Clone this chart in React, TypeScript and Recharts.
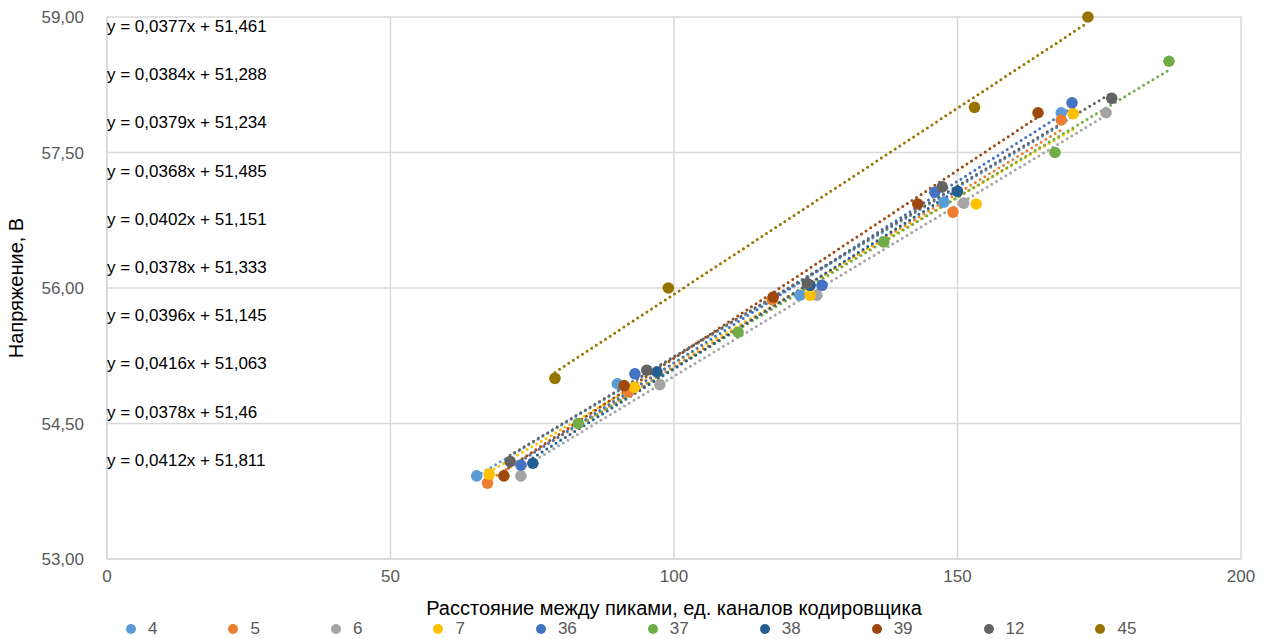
import React from "react"
import { CartesianGrid, Scatter, ScatterChart, XAxis, YAxis } from "recharts"

document.body.style.margin = "0"

const xTicks = [0, 50, 100, 150, 200]
const yTicks = [53, 54.5, 56, 57.5, 59]

const seriesNames = ["4", "5", "6", "7", "36", "37", "38", "39", "12", "45"]
const seriesColors = [
  "#5B9BD5",
  "#ED7D31",
  "#A5A5A5",
  "#FFC000",
  "#4472C4",
  "#70AD47",
  "#255E91",
  "#9E480E",
  "#636363",
  "#997300",
]

// points: [distance, voltage]
const s4: [number, number][] = [[65.2, 53.92], [90, 54.94], [122.2, 55.92], [147.6, 56.95], [168.3, 57.94]]
const s5: [number, number][] = [[67.1, 53.84], [92, 54.85], [117.3, 55.87], [149.2, 56.84], [168.3, 57.86]]
const s6: [number, number][] = [[73, 53.92], [97.5, 54.93], [125.2, 55.92], [151.1, 56.94], [176.2, 57.94]]
const s7: [number, number][] = [[67.4, 53.94], [93, 54.9], [124, 55.92], [153.3, 56.93], [170.4, 57.93]]
const s36: [number, number][] = [[73, 54.04], [93.1, 55.05], [126.1, 56.03], [146, 57.06], [170.2, 58.05]]
const s37: [number, number][] = [[83.1, 54.5], [111.3, 55.51], [137, 56.51], [167.2, 57.5], [187.3, 58.51]]
const s38: [number, number][] = [[75.1, 54.06], [97, 55.07], [124, 56.03], [150, 57.07]]
const s39: [number, number][] = [[70, 53.92], [91.2, 54.92], [117.5, 55.9], [143, 56.93], [164.2, 57.94]]
const s12: [number, number][] = [[71.1, 54.08], [95.2, 55.09], [123.5, 56.05], [147.3, 57.12], [177.2, 58.1]]
const s45: [number, number][] = [[79, 55], [99, 56], [153, 58], [173, 59]]

const seriesPoints = [s4, s5, s6, s7, s36, s37, s38, s39, s12, s45]

// trendline equations as printed on the chart
const slopes = [0.0377, 0.0384, 0.0379, 0.0368, 0.0402, 0.0378, 0.0396, 0.0416, 0.0378, 0.0412]
const intercepts = [51.461, 51.288, 51.234, 51.485, 51.151, 51.333, 51.145, 51.063, 51.46, 51.811]

const fmt = (n: number) => n.toString().replace(".", ",")

const series = seriesNames.map((name, i) => {
  const pts = seriesPoints[i].map(([x, y]) => ({ x, y }))
  const xs = pts.map((p) => p.x)
  const x0 = Math.min(...xs)
  const x1 = Math.max(...xs)
  const trend = [
    { x: x0, y: slopes[i] * x0 + intercepts[i] },
    { x: x1, y: slopes[i] * x1 + intercepts[i] },
  ]
  return {
    name,
    color: seriesColors[i],
    pts,
    trend,
    label: `y = ${fmt(slopes[i])}x + ${fmt(intercepts[i])}`,
  }
})

const font = "'Liberation Sans', Arial, sans-serif"

export default function App() {
  return (
    <div style={{ position: "relative", width: 1275, height: 639, background: "#fff", fontFamily: font }}>
      <ScatterChart width={1275} height={639} margin={{ top: 17, right: 34, left: 0, bottom: 50 }}>
        <CartesianGrid stroke="#d9d9d9" strokeWidth={1.5} />
        <XAxis
          type="number"
          dataKey="x"
          domain={[0, 200]}
          ticks={xTicks}
          height={30}
          tickSize={0}
          tickMargin={11}
          axisLine={{ stroke: "#d9d9d9", strokeWidth: 1.5 }}
          tick={{ fill: "#595959", fontSize: 17, fontFamily: font }}
        />
        <YAxis
          type="number"
          dataKey="y"
          domain={[53, 59]}
          ticks={yTicks}
          width={107}
          tickSize={0}
          tickMargin={23}
          axisLine={{ stroke: "#d9d9d9", strokeWidth: 1.5 }}
          tick={{ fill: "#595959", fontSize: 17, fontFamily: font }}
          tickFormatter={(v: number) => v.toFixed(2).replace(".", ",")}
        />
        {series.map((s) => (
          <Scatter
            key={"t" + s.name}
            data={s.trend}
            isAnimationActive={false}
            fill={s.color}
            line={{ stroke: s.color, strokeWidth: 3, strokeDasharray: "0 5.5", strokeLinecap: "round" }}
            shape={() => <g />}
          />
        ))}
        {series.map((s) => (
          <Scatter
            key={"p" + s.name}
            data={s.pts}
            isAnimationActive={false}
            fill={s.color}
            shape={(p: any) => <circle cx={p.cx} cy={p.cy} r={5.8} fill={s.color} />}
          />
        ))}
      </ScatterChart>

      {series.map((s, i) => (
        <div
          key={"eq" + s.name}
          style={{
            position: "absolute",
            left: 107,
            top: 27 + i * 48.2 - 10,
            lineHeight: "20px",
            fontSize: 17,
            color: "#000",
            whiteSpace: "nowrap",
          }}
        >
          {s.label}
        </div>
      ))}

      <div
        style={{
          position: "absolute",
          left: 16,
          top: 288,
          transform: "translate(-50%, -50%) rotate(-90deg)",
          fontSize: 20,
          whiteSpace: "nowrap",
          color: "#000",
        }}
      >
        Напряжение, В
      </div>

      <div
        style={{
          position: "absolute",
          left: 107,
          width: 1134,
          top: 596,
          lineHeight: "24px",
          textAlign: "center",
          fontSize: 20,
          color: "#000",
        }}
      >
        Расстояние между пиками, ед. каналов кодировщика
      </div>

      <div
        style={{
          position: "absolute",
          left: 126,
          top: 619,
          height: 20,
          display: "flex",
          alignItems: "center",
          gap: 71,
        }}
      >
        {series.map((s) => (
          <div key={"lg" + s.name} style={{ display: "flex", alignItems: "center", gap: 12 }}>
            <span style={{ width: 10, height: 10, borderRadius: 5, background: s.color, display: "inline-block" }} />
            <span style={{ fontSize: 17, color: "#595959" }}>{s.name}</span>
          </div>
        ))}
      </div>
    </div>
  )
}
